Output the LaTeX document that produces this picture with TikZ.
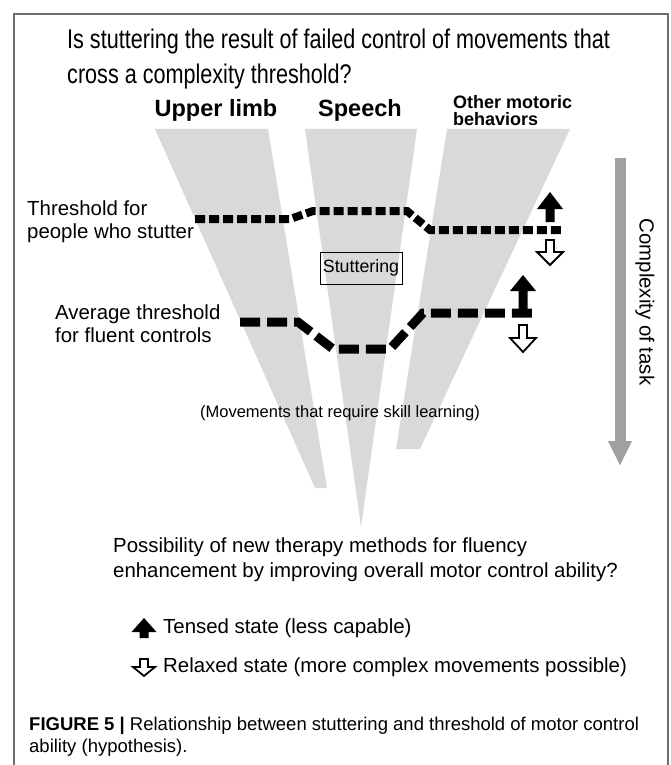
\documentclass[tikz,border=0pt]{standalone}
\usepackage{fontspec}
\setmainfont{Liberation Sans}
\newfontfamily\narrowfont[FakeStretch=0.80]{Liberation Sans}
\usetikzlibrary{arrows.meta,positioning}

\definecolor{taskgrey}{RGB}{217,217,217}
\definecolor{axisgrey}{RGB}{160,160,160}
\definecolor{framegrey}{RGB}{110,110,110}

\newcommand{\txtsize}[2]{\fontsize{#1}{#2}\selectfont}
% solid arrow: x, tip y, foot y, head length, head half width
\newcommand{\tensedarrow}[5]{%
\fill (#1,#2) -- (#1+#5,#2+#4) -- (#1+4.5,#2+#4) -- (#1+4.5,#3) -- (#1-4.5,#3) -- (#1-4.5,#2+#4) -- (#1-#5,#2+#4) -- cycle;}
% open arrow: x, top y, tip y, head length, head half width
\newcommand{\relaxedarrow}[5]{%
\draw[line width=1.8pt,fill=white,line join=miter] (#1-4,#2) -- (#1+4,#2) -- (#1+4,#3-#4) -- (#1+#5,#3-#4) -- (#1,#3) -- (#1-#5,#3-#4) -- (#1-4,#3-#4) -- cycle;}

\tikzset{
  plain/.style={font=\txtsize{20.4}{23}, inner sep=0pt},
  heading/.style={font=\bfseries\txtsize{23.5}{26}, inner sep=0pt},
  stutterline/.style={line width=8pt, dash pattern=on 10pt off 4pt},
  fluentline/.style={line width=9pt, dash pattern=on 20pt off 7pt},
}

\begin{document}
\begin{tikzpicture}[x=1pt,y=-1pt]
\useasboundingbox (0,0) rectangle (670,765);
\draw[framegrey,line width=1.5pt] (14,770) -- (14,14) -- (668,14) -- (668,770);

\draw (67,59.5) node(question)[anchor=west,align=left,inner sep=0pt,font=\narrowfont\txtsize{27}{35}]
{Is stuttering the result of failed control of movements that\\cross a complexity threshold?};

\fill[taskgrey] (155,129) -- (268,129) -- (327,488) -- (315,488) -- cycle;
\fill[taskgrey] (305,129) -- (417,129) -- (361,527) -- cycle;
\fill[taskgrey] (447,129) -- (570,129) -- (420,449) -- (396,449) -- cycle;

\draw (216,110) node(limb)[heading] {Upper limb};
\draw (360,110) node(speech)[heading] {Speech};
\draw (453,111) node(other)[anchor=west,align=left,inner sep=0pt,font=\bfseries\txtsize{18}{17}]
{Other motoric\\behaviors};

\draw (27,221.5) node(stutterlabel)[plain,anchor=west,align=left] {Threshold for\\people who stutter};
\draw (55,323.5) node(fluentlabel)[plain,anchor=west,align=left] {Average threshold\\for fluent controls};

\draw[stutterline] (195,219) -- (290,219) -- (313,211) -- (407,211) -- (430,230) -- (562,230);
\draw[fluentline] (240,322) -- (298,322) -- (333,349) -- (390,349) -- (423,313) -- (533,313);

\tensedarrow{550}{192}{222}{17}{13}
\relaxedarrow{550}{240}{265}{13}{13}
\tensedarrow{523}{275}{313}{16}{13}
\relaxedarrow{523}{325}{352}{14}{13}

\draw (361,268) node(stuttering)[draw,line width=1pt,minimum width=82pt,minimum height=32pt,inner sep=0pt,font=\txtsize{17.8}{20}] {Stuttering};

\draw (340,413) node(skill)[font=\txtsize{16.5}{18},inner sep=0pt] {(Movements that require skill learning)};

\coordinate (easy) at (620,158);
\coordinate (hard) at (620,466);
\draw[axisgrey,line width=11pt,-{Triangle[width=22pt,length=25pt]}] (easy) -- (hard);
\draw (645,302) node(complexity)[plain,rotate=-90] {Complexity of task};

\draw (113,559.5) node(therapy)[plain,anchor=west,align=left,font=\txtsize{20.4}{25}]
{Possibility of new therapy methods for fluency\\enhancement by improving overall motor control ability?};

\tensedarrow{144}{618}{638}{14}{12.5}
\draw (163,628) node(tensed)[plain,anchor=west] {Tensed state (less capable)};
\relaxedarrow{144}{659}{676}{9}{11}
\draw (163,667) node(relaxed)[plain,anchor=west] {Relaxed state (more complex movements possible)};

\draw (29,737) node(caption)[anchor=west,align=left,inner sep=0pt,font=\txtsize{18.5}{22}]
{\textbf{FIGURE 5 |} Relationship between stuttering and threshold of motor control\\ability (hypothesis).};
\end{tikzpicture}
\end{document}
